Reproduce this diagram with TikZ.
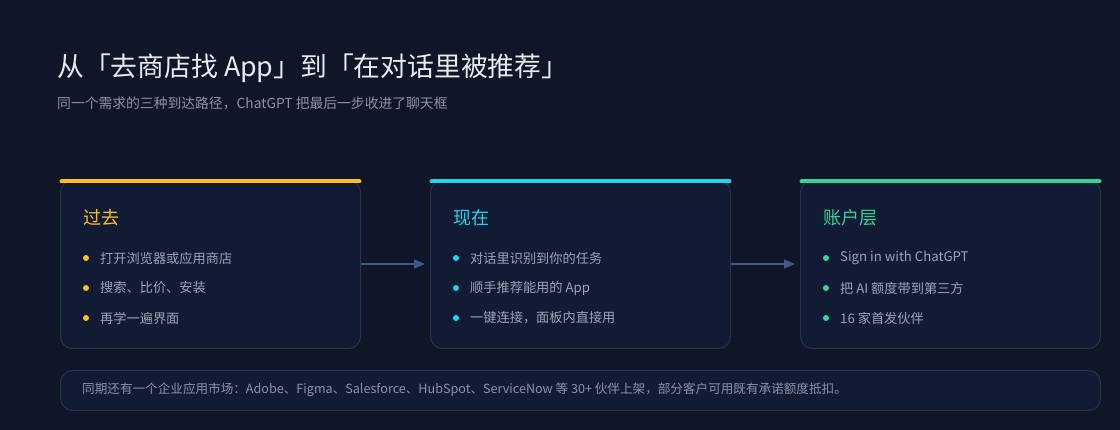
\documentclass[tikz,border=0pt]{standalone}
\usepackage{fontspec}
\setmainfont{Noto Sans CJK SC}
\usetikzlibrary{arrows.meta}
\definecolor{bg}{HTML}{0E1628}
\definecolor{cardfill}{HTML}{111B33}
\definecolor{cardline}{HTML}{263250}
\definecolor{ttl}{HTML}{E8ECF2}
\definecolor{sub}{HTML}{8A94A6}
\definecolor{itemc}{HTML}{9AA4B6}
\definecolor{yel}{HTML}{FBBF24}
\definecolor{cya}{HTML}{22D3EE}
\definecolor{grn}{HTML}{34D399}
\definecolor{arr}{HTML}{3D5A88}
\tikzset{
  card/.style={draw=cardline, line width=1pt, fill=cardfill, rounded corners=12pt, minimum width=300pt, minimum height=168pt, inner sep=0pt, anchor=north west},
  topbar/.style={line width=4pt, line cap=round},
  cardtitle/.style={anchor=west, inner sep=0pt, font=\fontsize{18}{22}\selectfont},
  item/.style={anchor=west, inner sep=0pt, text=itemc, font=\fontsize{13.2}{16}\selectfont},
  dot/.style={circle, inner sep=0pt, minimum size=6pt},
  flow/.style={draw=arr, line width=1.5pt, -{Triangle[length=11pt,width=9pt]}},
}
\begin{document}
\begin{tikzpicture}[x=1pt,y=-1pt]
\fill[bg] (0,0) rectangle (1120,430);
\useasboundingbox (0,0) rectangle (1120,430);
\node[anchor=west, inner sep=0pt, text=ttl, font=\fontsize{26.8}{32}\selectfont] (title) at (57,68) {从「去商店找 App」到「在对话里被推荐」};
\node[anchor=west, inner sep=0pt, text=sub, font=\fontsize{13.8}{17}\selectfont] (subtitle) at (57,103) {同一个需求的三种到达路径，ChatGPT 把最后一步收进了聊天框};

% cards
\node[card] (c1) at (60,180) {};
\node[card] (c2) at (430,180) {};
\node[card] (c3) at (800,180) {};
\draw[topbar, yel] (c1.north west) ++(1.5,1.5) -- ([shift={(-1.5,1.5)}]c1.north east);
\draw[topbar, cya] (c2.north west) ++(1.5,1.5) -- ([shift={(-1.5,1.5)}]c2.north east);
\draw[topbar, grn] (c3.north west) ++(1.5,1.5) -- ([shift={(-1.5,1.5)}]c3.north east);

% card 1
\node[cardtitle, text=yel] (t1) at (83,218) {过去};
\node[dot, fill=yel] (d11) at (86,258) {};
\node[dot, fill=yel] (d12) at (86,288) {};
\node[dot, fill=yel] (d13) at (86,318) {};
\node[item] (i11) at (100,258) {打开浏览器或应用商店};
\node[item] (i12) at (100,288) {搜索、比价、安装};
\node[item] (i13) at (100,318) {再学一遍界面};

% card 2
\node[cardtitle, text=cya] (t2) at (453,218) {现在};
\node[dot, fill=cya] (d21) at (456,258) {};
\node[dot, fill=cya] (d22) at (456,288) {};
\node[dot, fill=cya] (d23) at (456,318) {};
\node[item] (i21) at (470,258) {对话里识别到你的任务};
\node[item] (i22) at (470,288) {顺手推荐能用的 App};
\node[item] (i23) at (470,318) {一键连接，面板内直接用};

% card 3
\node[cardtitle, text=grn] (t3) at (823,218) {账户层};
\node[dot, fill=grn] (d31) at (826,258) {};
\node[dot, fill=grn] (d32) at (826,288) {};
\node[dot, fill=grn] (d33) at (826,318) {};
\node[item] (i31) at (840,258) {Sign in with ChatGPT};
\node[item] (i32) at (840,288) {把 AI 额度带到第三方};
\node[item] (i33) at (840,318) {16 家首发伙伴};

% arrows
\coordinate (a1s) at (c1.east |- 0,264);
\coordinate (a1e) at (425,264);
\coordinate (a2s) at (c2.east |- 0,264);
\coordinate (a2e) at (795,264);
\draw[flow] (a1s) -- (a1e);
\draw[flow] (a2s) -- (a2e);

% bottom note
\node[draw=cardline, line width=1pt, fill=cardfill, rounded corners=12pt, minimum width=1040pt, minimum height=40pt, inner sep=0pt, anchor=north west] (note) at (60,370) {};
\node[anchor=west, inner sep=0pt, text=sub, font=\fontsize{12.6}{15}\selectfont] (notetext) at (82,390) {同期还有一个企业应用市场：Adobe、Figma、Salesforce、HubSpot、ServiceNow 等 30+ 伙伴上架，部分客户可用既有承诺额度抵扣。};
\end{tikzpicture}
\end{document}
